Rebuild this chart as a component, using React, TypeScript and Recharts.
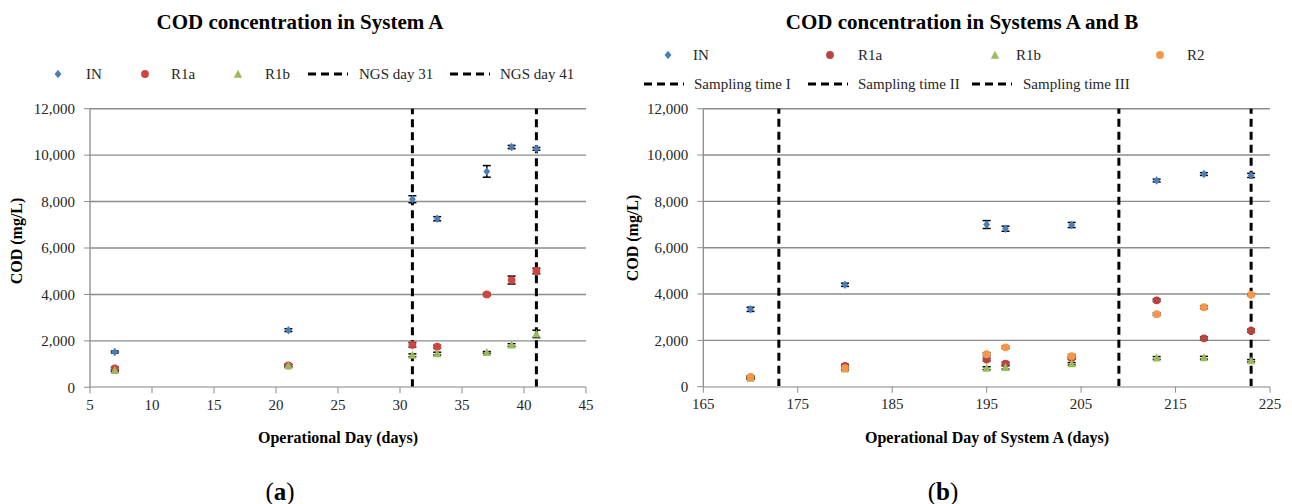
import React from 'react';
import { ScatterChart, Scatter, XAxis, YAxis, CartesianGrid, ReferenceLine, ErrorBar } from 'recharts';

// ---------- Data: System A (panel a) ----------
const daysA = [7, 21, 31, 33, 37, 39, 41];
const inA = [1520, 2460, 8100, 7260, 9300, 10350, 10270];
const inAErr = [40, 60, 150, 90, 250, 70, 60];
const r1aA = [810, 940, 1830, 1750, 4000, 4620, 5010];
const r1aAErr = [60, 50, 100, 60, 50, 170, 120];
const r1bA = [720, 930, 1380, 1450, 1500, 1820, 2300];
const r1bAErr = [40, 50, 60, 60, 40, 60, 160];
const ngsDays = [31, 41];
const ngsLabels = ['NGS day 31', 'NGS day 41'];
const ticksA = [5, 10, 15, 20, 25, 30, 35, 40, 45];

// ---------- Data: Systems A and B (panel b) ----------
const daysB = [170, 180, 195, 197, 204, 213, 218, 223];
const inB = [3340, 4400, 7000, 6820, 6980, 8900, 9180, 9120];
const inBErr = [90, 70, 170, 110, 110, 60, 60, 90];
const r1aB = [400, 900, 1170, 1000, 1240, 3730, 2090, 2420];
const r1aBErr = [50, 60, 60, 60, 60, 50, 60, 60];
const r1bB = [360, 760, 800, 830, 990, 1240, 1250, 1120];
const r1bBErr = [40, 40, 60, 70, 50, 60, 60, 50];
const r2B = [420, 800, 1400, 1700, 1320, 3130, 3430, 3970];
const r2BErr = [40, 50, 60, 50, 70, 50, 60, 40];
const samplingDays = [173, 209, 223];
const samplingLabels = ['Sampling time I', 'Sampling time II', 'Sampling time III'];
const ticksB = [165, 175, 185, 195, 205, 215, 225];

const yTicks = [0, 2000, 4000, 6000, 8000, 10000, 12000];

const BLUE = '#4a7ebb';
const RED_A = '#d0463f';
const RED_B = '#b8433f';
const GREEN = '#9bbb59';
const ORANGE = '#f79646';
const FONT = '"Liberation Serif", "Times New Roman", serif';

const build = (days: number[], vals: number[], errs: number[]) =>
  days.map((d, i) => ({ x: d, y: vals[i], err: errs[i] }));

const ok = (v: any) => typeof v === 'number' && !isNaN(v);

const diamondShape = (color: string) => (p: any) => {
  const { cx, cy } = p;
  if (!ok(cx) || !ok(cy)) return <g />;
  return <path d={`M${cx},${cy - 4.2}L${cx + 3.4},${cy}L${cx},${cy + 4.2}L${cx - 3.4},${cy}Z`} fill={color} />;
};
const circleShape = (color: string) => (p: any) => {
  const { cx, cy } = p;
  if (!ok(cx) || !ok(cy)) return <g />;
  return <circle cx={cx} cy={cy} r={3.9} fill={color} />;
};
const triangleShape = (color: string) => (p: any) => {
  const { cx, cy } = p;
  if (!ok(cx) || !ok(cy)) return <g />;
  return <path d={`M${cx},${cy - 4.5}L${cx + 4.2},${cy + 3.5}L${cx - 4.2},${cy + 3.5}Z`} fill={color} />;
};

const fmt = (v: number) => v.toLocaleString('en-US');
const tickStyle = { fontSize: 15, fill: '#262626', fontFamily: FONT };

const LegendIcon = ({ kind, color }: { kind: string; color: string }) => {
  if (kind === 'dash')
    return (
      <svg width={40} height={10} style={{ display: 'block' }}>
        <line x1={0} y1={5} x2={40} y2={5} stroke="#000" strokeWidth={3} strokeDasharray="8 5" />
      </svg>
    );
  return (
    <svg width={10} height={10} style={{ display: 'block' }}>
      {kind === 'diamond' && <path d="M5,0.8L8.4,5L5,9.2L1.6,5Z" fill={color} />}
      {kind === 'circle' && <circle cx={5} cy={5} r={3.9} fill={color} />}
      {kind === 'triangle' && <path d="M5,0.8L9.2,8.8L0.8,8.8Z" fill={color} />}
    </svg>
  );
};

type Item = { kind: string; color: string; label: string; ix: number; tx: number; y: number };

const LegendItems = ({ items }: { items: Item[] }) => (
  <>
    {items.map((it, i) => (
      <React.Fragment key={i}>
        <div style={{ position: 'absolute', left: it.kind === 'dash' ? it.ix : it.ix - 5, top: it.y - 5 }}>
          <LegendIcon kind={it.kind} color={it.color} />
        </div>
        <div
          style={{
            position: 'absolute',
            left: it.tx,
            top: it.y - 10,
            height: 20,
            lineHeight: '20px',
            fontSize: 15,
            color: '#262626',
            whiteSpace: 'nowrap',
          }}
        >
          {it.label}
        </div>
      </React.Fragment>
    ))}
  </>
);

const legendA: Item[] = [
  { kind: 'diamond', color: BLUE, label: 'IN', ix: 58, tx: 86, y: 74 },
  { kind: 'circle', color: RED_A, label: 'R1a', ix: 145, tx: 171, y: 74 },
  { kind: 'triangle', color: GREEN, label: 'R1b', ix: 238, tx: 265, y: 74 },
  { kind: 'dash', color: '#000', label: ngsLabels[0], ix: 308, tx: 359, y: 74 },
  { kind: 'dash', color: '#000', label: ngsLabels[1], ix: 450, tx: 500, y: 74 },
];

const legendB: Item[] = [
  { kind: 'diamond', color: BLUE, label: 'IN', ix: 668, tx: 693, y: 55 },
  { kind: 'circle', color: RED_B, label: 'R1a', ix: 830, tx: 858, y: 55 },
  { kind: 'triangle', color: GREEN, label: 'R1b', ix: 995, tx: 1016, y: 55 },
  { kind: 'circle', color: ORANGE, label: 'R2', ix: 1160, tx: 1187, y: 55 },
  { kind: 'dash', color: '#000', label: samplingLabels[0], ix: 644, tx: 694, y: 84 },
  { kind: 'dash', color: '#000', label: samplingLabels[1], ix: 808, tx: 858, y: 84 },
  { kind: 'dash', color: '#000', label: samplingLabels[2], ix: 972, tx: 1023, y: 84 },
];

const errBar = <ErrorBar dataKey="err" direction="y" width={4} strokeWidth={1.5} stroke="#000" />;

export default function App() {
  const axisLine = { stroke: '#8c8c8c', strokeWidth: 1.3 };
  return (
    <div
      style={{
        position: 'absolute',
        left: 0,
        top: 0,
        width: 1292,
        height: 504,
        background: '#fff',
        fontFamily: FONT,
        overflow: 'hidden',
      }}
    >
      {/* Titles */}
      <div style={{ position: 'absolute', left: 0, width: 600, top: 10, textAlign: 'center', fontWeight: 'bold', fontSize: 21, color: '#000' }}>
        COD concentration in System A
      </div>
      <div style={{ position: 'absolute', left: 662, width: 600, top: 10, textAlign: 'center', fontWeight: 'bold', fontSize: 21, color: '#000' }}>
        COD concentration in Systems A and B
      </div>

      <LegendItems items={legendA} />
      <LegendItems items={legendB} />

      {/* Left chart */}
      <div style={{ position: 'absolute', left: 0, top: 0 }}>
        <ScatterChart width={620} height={460} margin={{ top: 108.7, right: 34, bottom: 42.7, left: 30 }}>
          <CartesianGrid horizontal vertical={false} stroke="#8c8c8c" strokeWidth={1.4} />
          <XAxis
            type="number"
            dataKey="x"
            domain={[5, 45]}
            ticks={ticksA}
            interval={0}
            height={30}
            tick={tickStyle}
            tickSize={6}
            tickMargin={6}
            axisLine={{ stroke: '#bfbfbf', strokeWidth: 1.5 }}
            tickLine={{ stroke: '#8c8c8c' }}
          />
          <YAxis
            type="number"
            dataKey="y"
            domain={[0, 12000]}
            ticks={yTicks}
            interval={0}
            width={60}
            tickFormatter={fmt}
            tick={tickStyle}
            tickSize={6}
            tickMargin={9}
            axisLine={axisLine}
            tickLine={{ stroke: '#8c8c8c' }}
          />
          {ngsDays.map((d) => (
            <ReferenceLine key={d} x={d} stroke="#000" strokeWidth={3} strokeDasharray="8 5" />
          ))}
          <Scatter name="IN" data={build(daysA, inA, inAErr)} shape={diamondShape(BLUE)} isAnimationActive={false}>
            {errBar}
          </Scatter>
          <Scatter name="R1a" data={build(daysA, r1aA, r1aAErr)} shape={circleShape(RED_A)} isAnimationActive={false}>
            {errBar}
          </Scatter>
          <Scatter name="R1b" data={build(daysA, r1bA, r1bAErr)} shape={triangleShape(GREEN)} isAnimationActive={false}>
            {errBar}
          </Scatter>
        </ScatterChart>
      </div>

      {/* Right chart */}
      <div style={{ position: 'absolute', left: 620, top: 0 }}>
        <ScatterChart width={672} height={460} margin={{ top: 108.7, right: 22, bottom: 43.3, left: 23.3 }}>
          <CartesianGrid horizontal vertical={false} stroke="#8c8c8c" strokeWidth={1.4} />
          <XAxis
            type="number"
            dataKey="x"
            domain={[165, 225]}
            ticks={ticksB}
            interval={0}
            height={30}
            tick={tickStyle}
            tickSize={6}
            tickMargin={6}
            axisLine={{ stroke: '#bfbfbf', strokeWidth: 1.5 }}
            tickLine={{ stroke: '#8c8c8c' }}
          />
          <YAxis
            type="number"
            dataKey="y"
            domain={[0, 12000]}
            ticks={yTicks}
            interval={0}
            width={60}
            tickFormatter={fmt}
            tick={tickStyle}
            tickSize={6}
            tickMargin={9}
            axisLine={axisLine}
            tickLine={{ stroke: '#8c8c8c' }}
          />
          {samplingDays.map((d) => (
            <ReferenceLine key={d} x={d} stroke="#000" strokeWidth={3} strokeDasharray="8 5" />
          ))}
          <Scatter name="IN" data={build(daysB, inB, inBErr)} shape={diamondShape(BLUE)} isAnimationActive={false}>
            {errBar}
          </Scatter>
          <Scatter name="R1a" data={build(daysB, r1aB, r1aBErr)} shape={circleShape(RED_B)} isAnimationActive={false}>
            {errBar}
          </Scatter>
          <Scatter name="R1b" data={build(daysB, r1bB, r1bBErr)} shape={triangleShape(GREEN)} isAnimationActive={false}>
            {errBar}
          </Scatter>
          <Scatter name="R2" data={build(daysB, r2B, r2BErr)} shape={circleShape(ORANGE)} isAnimationActive={false}>
            {errBar}
          </Scatter>
        </ScatterChart>
      </div>

      {/* Axis titles */}
      <div style={{ position: 'absolute', left: 17 - 100, top: 241 - 10, width: 200, height: 20, lineHeight: '20px', textAlign: 'center', transform: 'rotate(-90deg)', fontWeight: 'bold', fontSize: 16, color: '#000' }}>
        COD (mg/L)
      </div>
      <div style={{ position: 'absolute', left: 633 - 100, top: 238 - 10, width: 200, height: 20, lineHeight: '20px', textAlign: 'center', transform: 'rotate(-90deg)', fontWeight: 'bold', fontSize: 16, color: '#000' }}>
        COD (mg/L)
      </div>
      <div style={{ position: 'absolute', left: 338 - 200, top: 428, width: 400, textAlign: 'center', fontWeight: 'bold', fontSize: 16, color: '#000', lineHeight: '20px' }}>
        Operational Day (days)
      </div>
      <div style={{ position: 'absolute', left: 987 - 200, top: 428, width: 400, textAlign: 'center', fontWeight: 'bold', fontSize: 16, color: '#000', lineHeight: '20px' }}>
        Operational Day of System A (days)
      </div>

      {/* Panel captions */}
      <div style={{ position: 'absolute', left: 280 - 50, top: 477, width: 100, textAlign: 'center', fontSize: 25, color: '#000', lineHeight: '30px' }}>
        (<b>a</b>)
      </div>
      <div style={{ position: 'absolute', left: 943 - 50, top: 477, width: 100, textAlign: 'center', fontSize: 25, color: '#000', lineHeight: '30px' }}>
        (<b>b</b>)
      </div>
    </div>
  );
}
